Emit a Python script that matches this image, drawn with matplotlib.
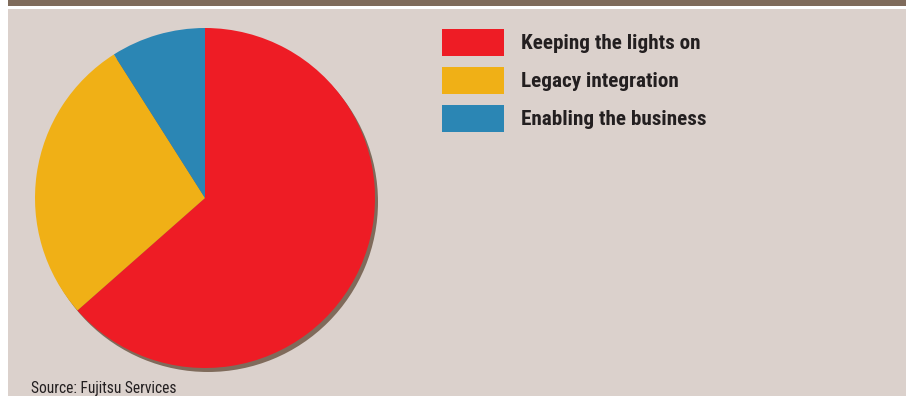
import matplotlib
matplotlib.use("Agg")
import matplotlib.pyplot as plt
from matplotlib.patches import Rectangle

categories = ["Keeping the lights on", "Legacy integration", "Enabling the business"]
values = [63.5, 27.5, 9.0]
colors = ["#ee1c25", "#f0b016", "#2b86b4"]
source = "Source: Fujitsu Services"

BG = "#dbd1cc"
BROWN = "#7f6b5b"
TEXT = "#231f20"
FONT = ["Roboto Condensed", "DejaVu Sans"]
W, H = 911, 396

fig = plt.figure(figsize=(W / 100, H / 100), dpi=100, facecolor="white")

# background panels
bgax = fig.add_axes([0, 0, 1, 1])
bgax.set_xlim(0, W)
bgax.set_ylim(H, 0)
bgax.axis("off")
bgax.add_patch(Rectangle((8, 0), 898, 6, facecolor=BROWN, edgecolor="none"))
bgax.add_patch(Rectangle((8, 9), 898, H - 9, facecolor=BG, edgecolor="none"))

# pie axes
cx, cy, r = 205, 198, 170
half = 180
ax = fig.add_axes([(cx - half) / W, (H - cy - half) / H, 2 * half / W, 2 * half / H])
ax.axis("off")

off = (3 / r, -4 / r)
ax.pie([sum(values)], colors=[BROWN], startangle=90, radius=1, center=off,
       wedgeprops=dict(linewidth=0))
ax.pie(values, colors=colors, startangle=90, counterclock=False, radius=1,
       center=(0, 0), wedgeprops=dict(linewidth=0))
ax.set_aspect("equal")
ax.set_xlim(-half / r, half / r)
ax.set_ylim(-half / r, half / r)

# legend
ys = [29, 67, 105]
for lab, col, y in zip(categories, colors, ys):
    bgax.add_patch(Rectangle((442, y), 62, 27, facecolor=col, edgecolor="none"))
    bgax.text(521, y + 14.5, lab, fontsize=15.2, fontweight="bold", family=FONT,
              color=TEXT, va="center", ha="left")

bgax.text(31, 389, source, fontsize=11.2, family=FONT, color=TEXT,
          va="center", ha="left")

fig.savefig("out.png", dpi=100, facecolor="white")
